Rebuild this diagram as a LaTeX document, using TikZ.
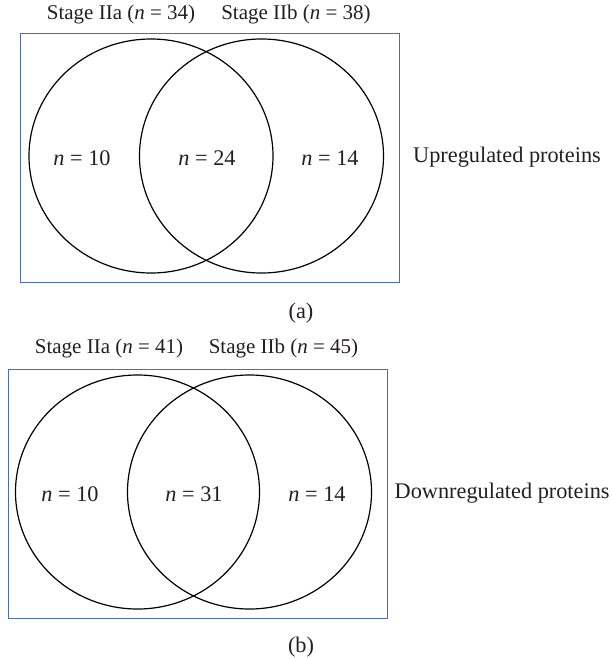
\documentclass[tikz,border=0pt]{standalone}
\usepackage{fontspec}
\setmainfont{Liberation Serif}
\usepackage{tikz}
\usetikzlibrary{shapes.geometric,positioning}
\definecolor{frame}{HTML}{4F6E9E}
\definecolor{ink}{HTML}{231F20}

\begin{document}
\begin{tikzpicture}[x=1pt,y=-1pt,
  set/.style={draw=black,ellipse,line width=1.2pt,minimum width=244pt,
              minimum height=234pt,inner sep=0pt},
  box/.style={draw=frame,line width=1pt,minimum width=379pt,
              minimum height=249pt,inner sep=0pt},
  lbl/.style={font=\fontsize{22.3}{26}\selectfont,text=ink,inner sep=0pt},
  ttl/.style={lbl,font=\fontsize{21}{25}\selectfont}]
\useasboundingbox (0,0) rectangle (612,659);
% (a) upregulated
\node[box] (boxa) at (210,157.5) {};
\node[set] (iia-a) at (151,156) {};
\node[set] (iib-a) at (261.5,156) {};
\node[ttl] (tia) at (121,14) {Stage IIa (\textit{n} = 34)};
\node[ttl] (tib) at (296,14) {Stage IIb (\textit{n} = 38)};
\node[lbl] (onlya) at (82,158) {\textit{n} = 10};
\node[lbl] (botha) at (207,158) {\textit{n} = 24};
\node[lbl] (onlyb) at (330,158) {\textit{n} = 14};
\node[lbl,right=13pt of boxa] (up) {Upregulated proteins};
\node[lbl] (capa) at (301,313) {(a)};
% (b) downregulated
\node[box] (boxb) at (197.5,493.5) {};
\node[set] (iia-b) at (137.5,492) {};
\node[set] (iib-b) at (249.5,492) {};
\node[ttl] (tiia) at (109,348) {Stage IIa (\textit{n} = 41)};
\node[ttl] (tiib) at (283.5,348) {Stage IIb (\textit{n} = 45)};
\node[lbl] (onlyab) at (70,494) {\textit{n} = 10};
\node[lbl] (bothb) at (194,494) {\textit{n} = 31};
\node[lbl] (onlybb) at (317,494) {\textit{n} = 14};
\node[lbl,right=7pt of boxb] (down) {Downregulated proteins};
\node[lbl] (capb) at (301,647) {(b)};
\end{tikzpicture}
\end{document}
